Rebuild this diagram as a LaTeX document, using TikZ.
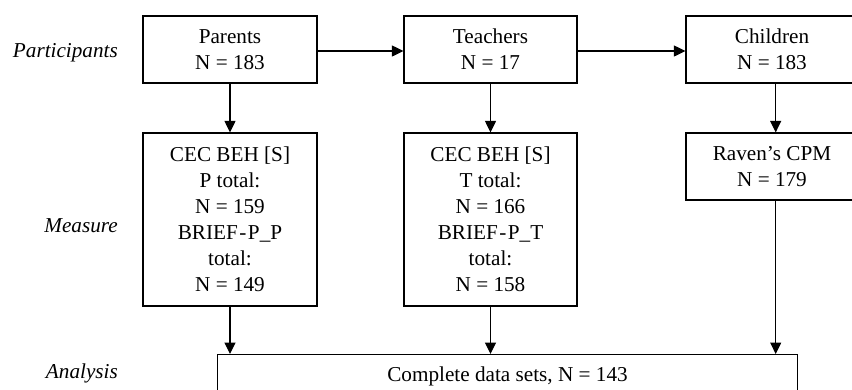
\documentclass[tikz,border=0pt]{standalone}
\usepackage{fontspec}
\setmainfont{Liberation Serif}
\usetikzlibrary{arrows.meta}
\tikzset{
  box/.style={draw, line width=1.2pt, align=center, inner sep=0pt,
    font=\fontsize{21.2}{26}\selectfont},
  lab/.style={anchor=base east, inner sep=0pt,
    font=\fontsize{21.2}{26}\selectfont\itshape},
  arr/.style={line width=1.2pt, -{Triangle[length=11.5pt,width=11pt]}}
}
\begin{document}
\begin{tikzpicture}[x=1pt,y=-1pt]
\useasboundingbox (0,0) rectangle (852,389);
\clip (0,0) rectangle (852,389);
\node[box, minimum width=174, minimum height=67] (par) at (230,49.5) {Parents\\N = 183};
\node[box, minimum width=173, minimum height=67] (tea) at (490.5,49.5) {Teachers\\N = 17};
\node[box, minimum width=172, minimum height=67] (chi) at (772,49.5) {Children\\N = 183};
\node[box, minimum width=174, minimum height=173] (pm) at (230,219.5)
  {CEC BEH [S]\\P total:\\N = 159\\BRIEF{\kern1.5pt}-{\kern1.5pt}P\textunderscore P\\total:\\N = 149};
\node[box, minimum width=173, minimum height=173] (tm) at (490.5,219.5)
  {CEC BEH [S]\\T total:\\N = 166\\BRIEF{\kern1.5pt}-{\kern1.5pt}P\textunderscore T\\total:\\N = 158};
\node[box, minimum width=172, minimum height=67] (rav) at (772,166.5) {Raven’s CPM\\N = 179};
\node[box, anchor=north, minimum width=580.5, text height=17pt, text depth=40pt, inner ysep=10pt] (ana) at (507.5,354)
  {Complete data sets, N = 143};
\node[lab] (l1) at (118,57.5) {Participants};
\node[lab] (l2) at (118,232.5) {Measure};
\node[lab] (l3) at (118,378) {Analysis};
\draw[arr] (par.east |- 0,51) -- (tea.west |- 0,51);
\draw[arr] (tea.east |- 0,51) -- (chi.west |- 0,51);
\draw[arr] (par.south) -- (pm.north);
\draw[arr] (tea.south) -- (tm.north);
\draw[arr] ([xshift=3.7pt]chi.south) -- ([xshift=3.7pt]rav.north);
\draw[arr] (pm.south) -- (pm.south |- ana.north);
\draw[arr] (tm.south) -- (tm.south |- ana.north);
\draw[arr] ([xshift=3.7pt]rav.south) -- ([xshift=3.7pt]rav.south |- ana.north);
\end{tikzpicture}
\end{document}
